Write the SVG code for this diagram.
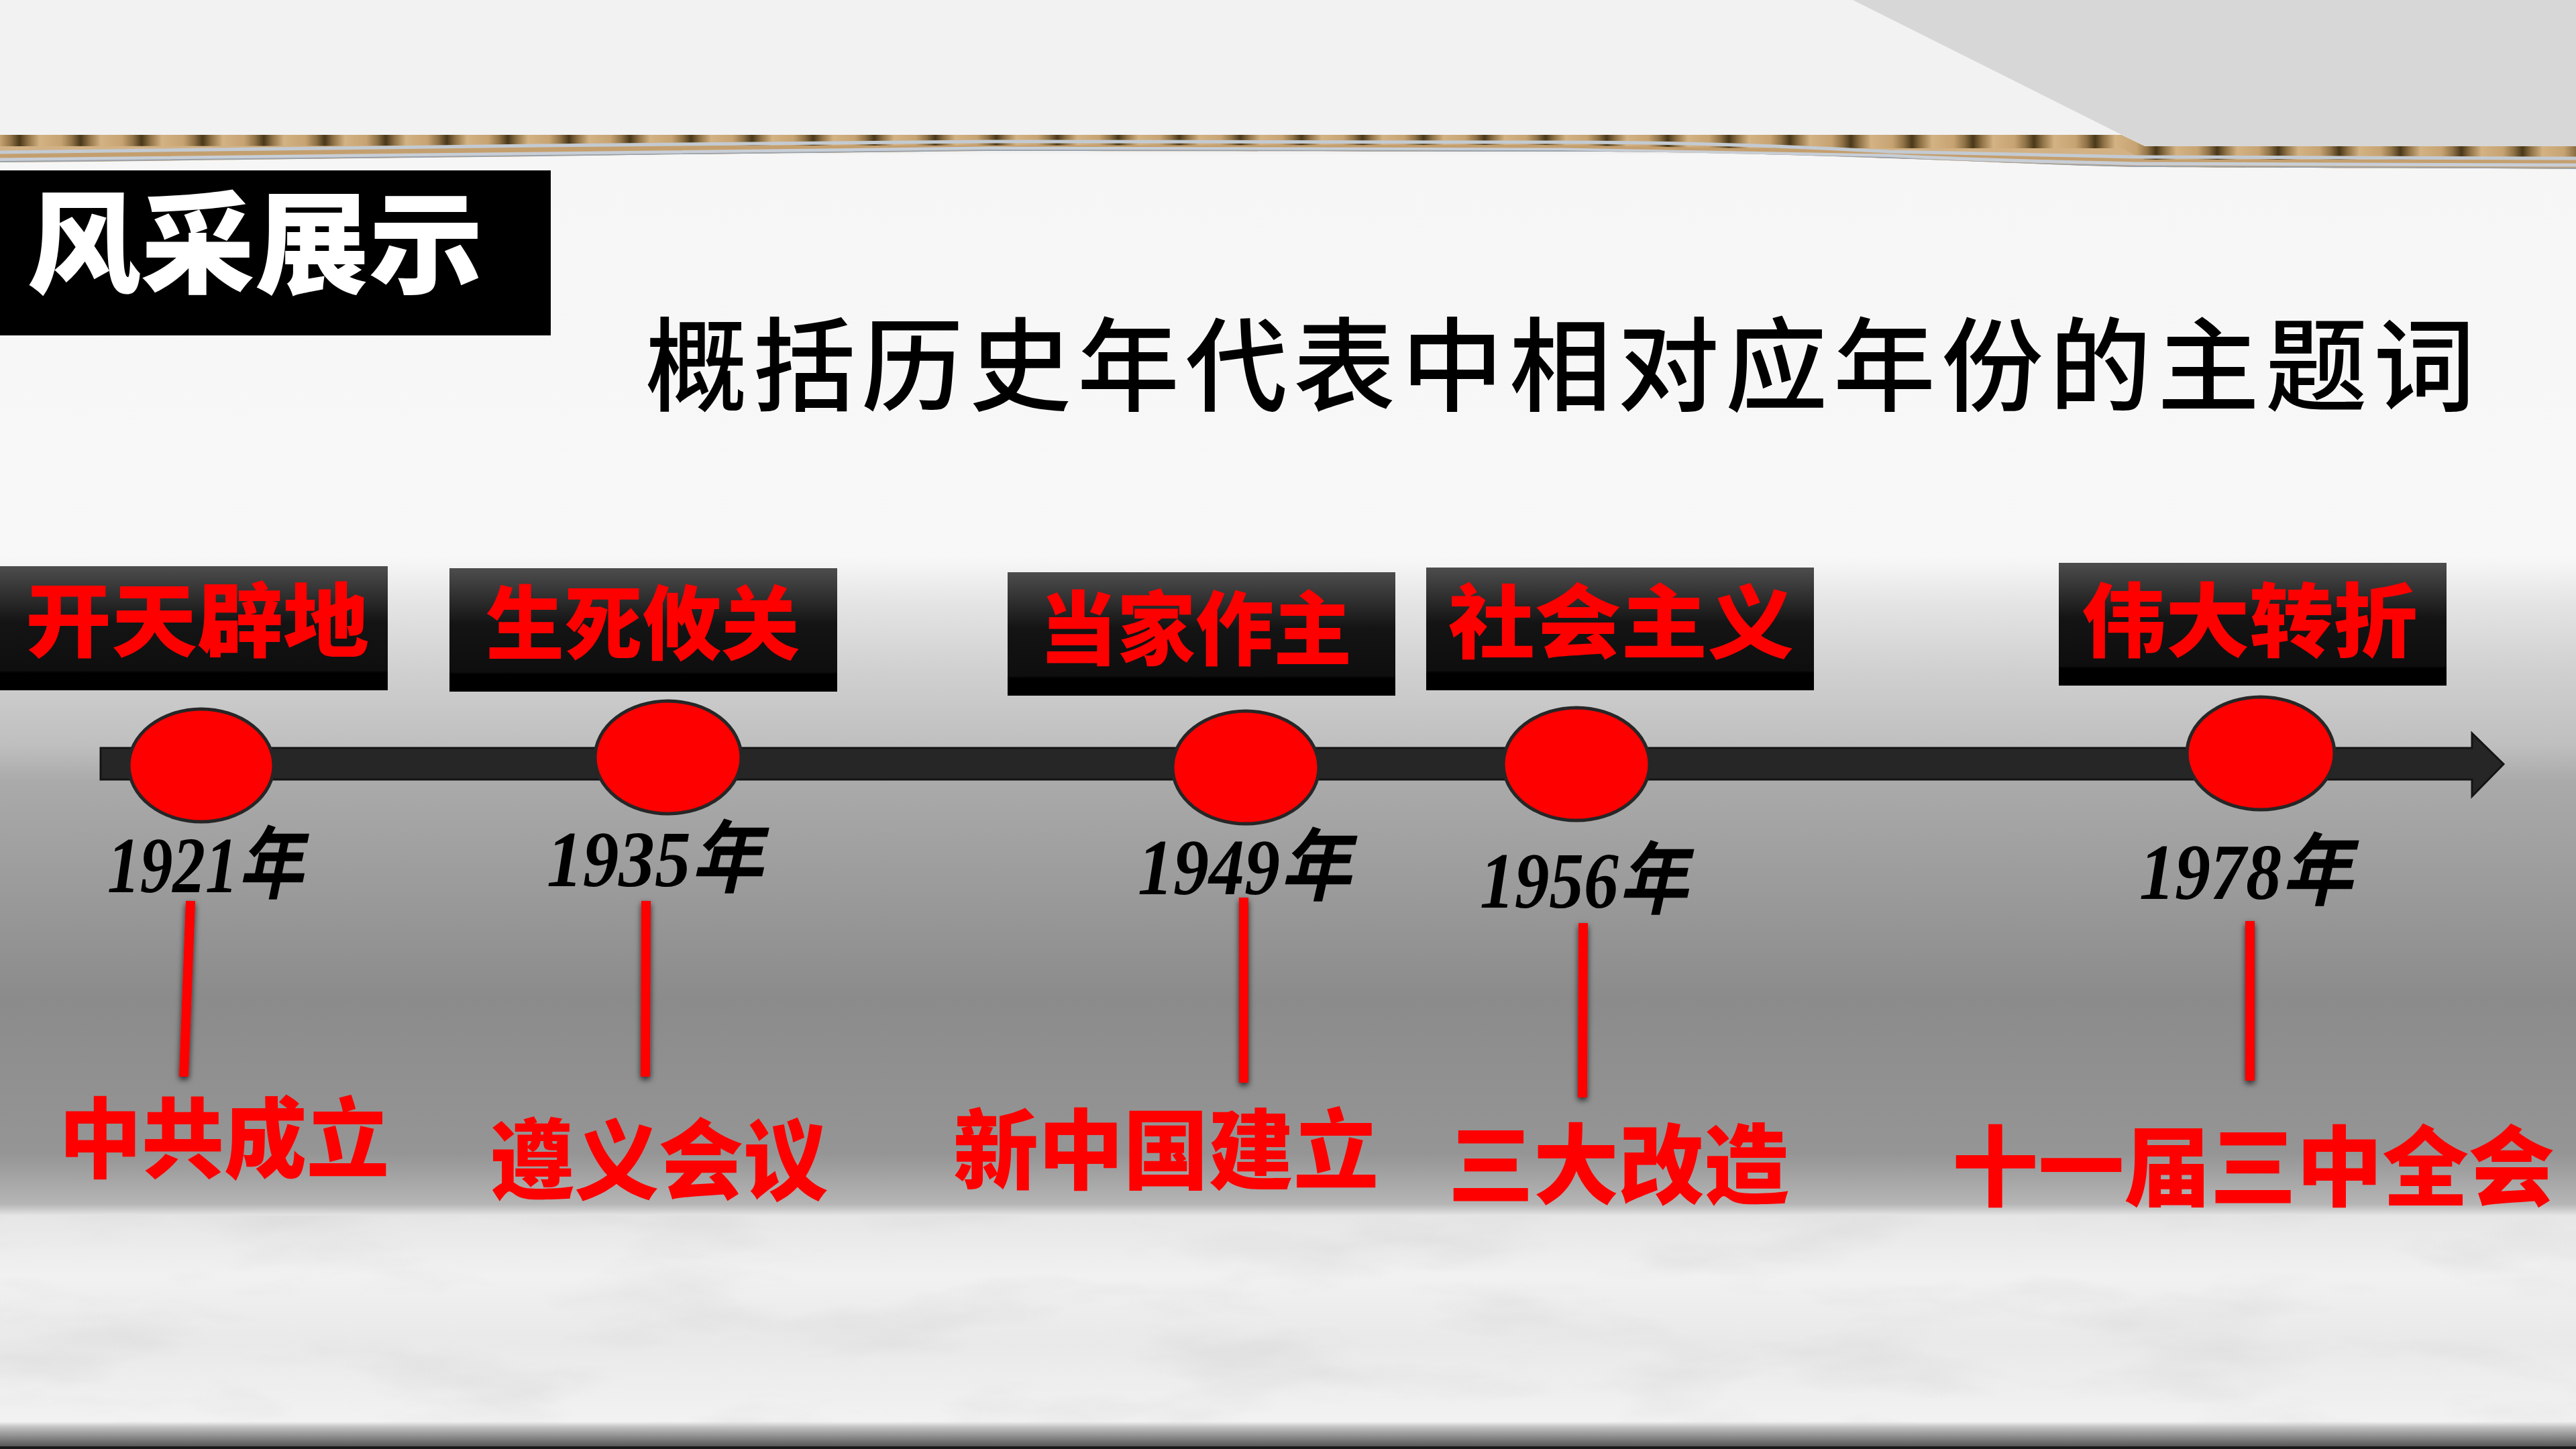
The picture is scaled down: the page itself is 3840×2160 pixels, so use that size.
<svg xmlns="http://www.w3.org/2000/svg" width="3840" height="2160" viewBox="0 0 3840 2160">
<defs>
<style>
.box{fill:url(#boxg);}
.dot{fill:#ff0000;stroke:#262626;stroke-width:5;}
.lbl{font-family:"Noto Sans CJK SC","Noto Sans CJK JP",sans-serif;font-weight:900;fill:#ff0000;}
.evt{font-family:"Noto Sans CJK SC","Noto Sans CJK JP",sans-serif;font-weight:900;fill:#ff0000;font-size:130px;}
.yr{font-family:"Liberation Serif","Noto Sans CJK SC",serif;font-weight:bold;font-style:italic;fill:#000;font-size:118px;}
.stem{fill:#ff0000;filter:url(#sh);}
</style>
<linearGradient id="bg" gradientUnits="userSpaceOnUse" x1="0" y1="0" x2="0" y2="2160">
<stop offset="0.1157" stop-color="#f6f6f6"/>
<stop offset="0.384" stop-color="#f8f8f8"/>
<stop offset="0.4167" stop-color="#e4e4e4"/>
<stop offset="0.463" stop-color="#d0d0d0"/>
<stop offset="0.514" stop-color="#bfbfbf"/>
<stop offset="0.539" stop-color="#aaaaaa"/>
<stop offset="0.69" stop-color="#8b8b8b"/>
<stop offset="0.796" stop-color="#959595"/>
<stop offset="0.831" stop-color="#b5b5b5"/>
<stop offset="0.839" stop-color="#e6e6e6"/>
<stop offset="0.88" stop-color="#f1f1f1"/>
<stop offset="0.926" stop-color="#e9e9e9"/>
<stop offset="0.981" stop-color="#f2f2f2"/>
<stop offset="0.985" stop-color="#c0c0c0"/>
<stop offset="0.995" stop-color="#707070"/>
<stop offset="1" stop-color="#4a4a4a"/>
</linearGradient>
<linearGradient id="boxg" x1="0" y1="0" x2="0" y2="1">
<stop offset="0" stop-color="#4d4d4d"/>
<stop offset="0.45" stop-color="#141414"/>
<stop offset="0.84" stop-color="#0e0e0e"/>
<stop offset="0.86" stop-color="#000"/>
<stop offset="1" stop-color="#000"/>
</linearGradient>
<linearGradient id="rib" x1="0" y1="0" x2="1" y2="0">
<stop offset="0" stop-color="#c7a372"/>
<stop offset="0.18" stop-color="#8f7246"/>
<stop offset="0.32" stop-color="#4a3819"/>
<stop offset="0.46" stop-color="#8f7246"/>
<stop offset="0.65" stop-color="#d3b283"/>
<stop offset="1" stop-color="#c7a372"/>
</linearGradient>
<pattern id="corr" patternUnits="userSpaceOnUse" width="91" height="60">
<rect width="91" height="60" fill="url(#rib)"/>
</pattern>
<filter id="sh" x="-2" y="-0.2" width="5" height="1.4">
<feDropShadow dx="0" dy="4" stdDeviation="5" flood-color="#000" flood-opacity="0.75"/>
</filter>
<filter id="cloud" x="0" y="0" width="1" height="1">
<feTurbulence type="fractalNoise" baseFrequency="0.0035 0.012" numOctaves="4" seed="7"/>
<feColorMatrix values="0 0 0 0 0.6  0 0 0 0 0.6  0 0 0 0 0.6  2.2 0 0 0 -1.05"/>
</filter>
<clipPath id="stripclip">
<path d="M0,201 L3162,201 L3197,218 L3840,218 L3840,252 C3500,250 3300,250 3184,249 C3000,244 2900,238 2816,236 C2600,228 2450,226 2327,226 C2000,226 1700,225 1470,225 C1200,228 1000,230 808,233 C500,236 250,240 0,242 Z"/>
</clipPath>
</defs>

<g id="background">
<rect x="0" y="0" width="3840" height="2160" fill="url(#bg)"/>
<rect x="0" y="0" width="3840" height="230" fill="#f2f2f2"/>
<polygon points="2762,0 3840,0 3840,218 3197,218" fill="#d7d7d7"/>
<rect x="0" y="1812" width="3840" height="312" fill="#fff" filter="url(#cloud)" opacity="0.35"/>
<rect x="0" y="2156" width="3840" height="4" fill="#1a1a1a"/>
</g>

<g id="cardboard" clip-path="url(#stripclip)">
<rect x="0" y="195" width="3840" height="70" fill="#c49f6e"/>
<path d="M0,201 L3162,201 L3197,218 L3840,218 L3840,236 L3184,234 C3000,230 2900,228 2816,226 C2600,214 2450,212 2327,212 C2000,211 1700,211 1470,211 C1200,213 1000,215 808,217 C500,221 250,224 0,227 Z" fill="#d2b185"/>
<path d="M0,201 L3162,201 L3197,218 L3840,218 L3840,238 L3197,238 L3162,221 L2600,221 L2300,216 L0,218 Z" fill="url(#corr)"/>
<path d="M0,227 C250,224 500,221 808,217 C1000,215 1200,213 1470,211 C1700,211 2000,211 2327,212 C2450,212 2600,214 2816,226 C2900,228 3000,230 3184,234 L3840,236" fill="none" stroke="#c3cad2" stroke-width="5"/>
<path d="M0,238 C250,235 500,232 808,229 C1000,226 1200,223 1470,221 C1700,221 2000,222 2327,223 C2450,224 2600,227 2816,232 C2900,236 3000,240 3184,244 L3840,246" fill="none" stroke="#c8ced6" stroke-width="5"/>
<path d="M0,241 C250,239 500,236 808,232 C1000,230 1200,228 1470,224 C1700,225 2000,225 2327,225 C2450,226 2600,230 2816,235 C2900,240 3000,244 3184,248 L3840,251" fill="none" stroke="#9aa2ab" stroke-width="2"/>
</g>

<g id="title">
<rect x="0" y="254" width="821" height="246" fill="#000"/>
<text x="40" y="424" font-family="Noto Sans CJK SC, sans-serif" font-weight="900" font-size="165" fill="#fff" textLength="680" lengthAdjust="spacingAndGlyphs">风采展示</text>
</g>

<g id="subtitle">
<text x="962" y="601" font-family="Noto Sans CJK SC, sans-serif" font-weight="500" font-size="152" fill="#000" textLength="2728" lengthAdjust="spacing">概括历史年代表中相对应年份的主题词</text>
</g>

<g id="connectors">
<path d="M150,1115 L3685,1115 L3685,1093 L3732,1139 L3685,1187 L3685,1162 L150,1162 Z" fill="#262626" stroke="#141414" stroke-width="3"/>
<polygon class="stem" points="277,1343 291,1343 281,1605 267,1605"/>
<polygon class="stem" points="956,1343 970,1343 969,1605 955,1605"/>
<polygon class="stem" points="1847,1338 1861,1338 1861,1614 1847,1614"/>
<polygon class="stem" points="2353,1376 2367,1376 2366,1636 2352,1636"/>
<polygon class="stem" points="3347,1373 3361,1373 3361,1611 3347,1611"/>
</g>

<g id="node-1921">
<rect class="box" x="0" y="844" width="578" height="185"/>
<text class="lbl" x="38" y="970" font-size="120" textLength="512" lengthAdjust="spacingAndGlyphs">开天辟地</text>
<ellipse class="dot" cx="300" cy="1141" rx="108" ry="84"/>
<text class="yr" x="160" y="1330" textLength="292" lengthAdjust="spacingAndGlyphs">1921年</text>
<text class="evt" x="88" y="1745" textLength="492" lengthAdjust="spacingAndGlyphs">中共成立</text>
</g>

<g id="node-1935">
<rect class="box" x="670" y="847" width="578" height="184"/>
<text class="lbl" x="724" y="974" font-size="120" textLength="468" lengthAdjust="spacingAndGlyphs">生死攸关</text>
<ellipse class="dot" cx="996" cy="1129" rx="109" ry="84"/>
<text class="yr" x="815" y="1321" textLength="322" lengthAdjust="spacingAndGlyphs">1935年</text>
<text class="evt" x="730" y="1777" textLength="504" lengthAdjust="spacingAndGlyphs">遵义会议</text>
</g>

<g id="node-1949">
<rect class="box" x="1502" y="853" width="578" height="184"/>
<text class="lbl" x="1549" y="982" font-size="120" textLength="466" lengthAdjust="spacingAndGlyphs">当家作主</text>
<ellipse class="dot" cx="1857" cy="1144" rx="109" ry="84"/>
<text class="yr" x="1696" y="1333" textLength="318" lengthAdjust="spacingAndGlyphs">1949年</text>
<text class="evt" x="1421" y="1762" textLength="634" lengthAdjust="spacingAndGlyphs">新中国建立</text>
</g>

<g id="node-1956">
<rect class="box" x="2126" y="846" width="578" height="183"/>
<text class="lbl" x="2159" y="972" font-size="120" textLength="515" lengthAdjust="spacingAndGlyphs">社会主义</text>
<ellipse class="dot" cx="2350" cy="1139" rx="109" ry="84"/>
<text class="yr" x="2206" y="1353" textLength="310" lengthAdjust="spacingAndGlyphs">1956年</text>
<text class="evt" x="2159" y="1784" textLength="508" lengthAdjust="spacingAndGlyphs">三大改造</text>
</g>

<g id="node-1978">
<rect class="box" x="3069" y="839" width="578" height="183"/>
<text class="lbl" x="3103" y="970" font-size="120" textLength="501" lengthAdjust="spacingAndGlyphs">伟大转折</text>
<ellipse class="dot" cx="3370" cy="1123" rx="110" ry="84"/>
<text class="yr" x="3189" y="1340" textLength="318" lengthAdjust="spacingAndGlyphs">1978年</text>
<text class="evt" x="2910" y="1787" textLength="898" lengthAdjust="spacingAndGlyphs">十一届三中全会</text>
</g>
</svg>
